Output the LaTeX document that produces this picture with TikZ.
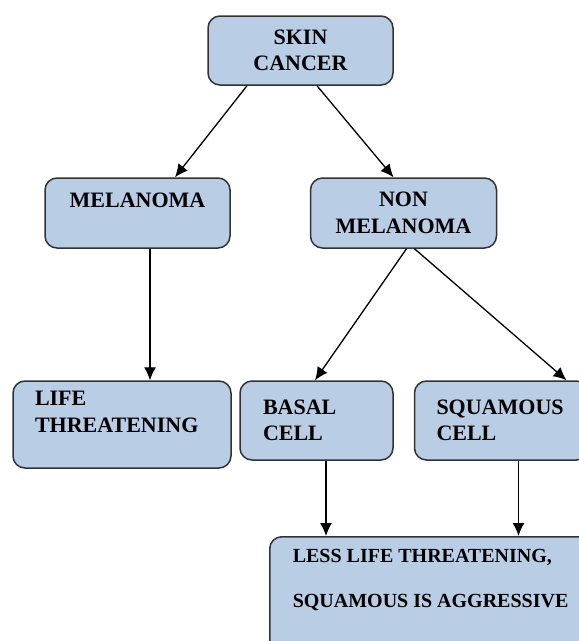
\documentclass[tikz,border=0pt]{standalone}
\usepackage{fontspec}
\setmainfont{Liberation Serif}
\usepackage{tikz}
\usetikzlibrary{arrows.meta,shapes,positioning}
\definecolor{boxfill}{RGB}{185,205,229}
\definecolor{boxline}{RGB}{50,50,50}

\begin{document}
\begin{tikzpicture}[x=1pt,y=-1pt]
\tikzstyle{block}=[draw=boxline, fill=boxfill, line width=1.5pt, shape=rectangle, rounded corners=12pt, font=\fontsize{22}{26.5}\selectfont\bfseries, align=center, inner sep=0pt]
\tikzstyle{leftblock}=[block, align=left, inner xsep=22pt]
\tikzstyle{link}=[-{Latex[length=13pt,width=12pt]}, line width=1.3pt]
\useasboundingbox (0,0) rectangle (579,641);
\node[block, minimum width=185pt, minimum height=69pt] (0) at (300.5,50.5) {SKIN\\CANCER};
\node[block, minimum width=185pt, minimum height=70pt] (1) at (137.5,213) {MELANOMA\\[-9pt]\strut};
\node[block, minimum width=186pt, minimum height=70pt] (2) [right=79pt of 1] {NON\\MELANOMA};
\node[leftblock, text width=174pt, minimum height=87pt] (3) at (122,424.5) {LIFE\\THREATENING\\[-9pt]\strut};
\node[leftblock, inner xsep=23pt, text width=107pt, minimum height=79pt] (4) at (316.5,420.5) {BASAL\\CELL};
\node[leftblock, text width=130pt, minimum height=79pt] (5) [right=20pt of 4] {SQUAMOUS\\CELL};
\node[leftblock, inner xsep=23pt, minimum height=136pt, anchor=north west, font=\fontsize{20}{26}\selectfont\bfseries] (6) at (269,536) {LESS LIFE THREATENING,\\[19pt]SQUAMOUS IS AGGRESSIVE\\[19pt]\strut};

\draw[link] ([xshift=-53.5pt]0.south) -- ([xshift=37.5pt]1.north);
\draw[link] ([xshift=16.5pt]0.south) -- ([xshift=-10pt]2.north);
\draw[link] ([xshift=12.5pt]1.south) -- ([xshift=12.5pt]1.south |- 3.north);
\draw[link] ([xshift=3pt]2.south) -- ([xshift=-1.5pt]4.north);
\draw[link] ([xshift=11pt]2.south) -- ([xshift=65pt]5.north);
\draw[link] ([xshift=9.5pt]4.south) -- ([xshift=9.5pt]4.south |- 6.north);
\draw[link] ([xshift=17pt]5.south) -- ([xshift=17pt]5.south |- 6.north);
\end{tikzpicture}
\end{document}
